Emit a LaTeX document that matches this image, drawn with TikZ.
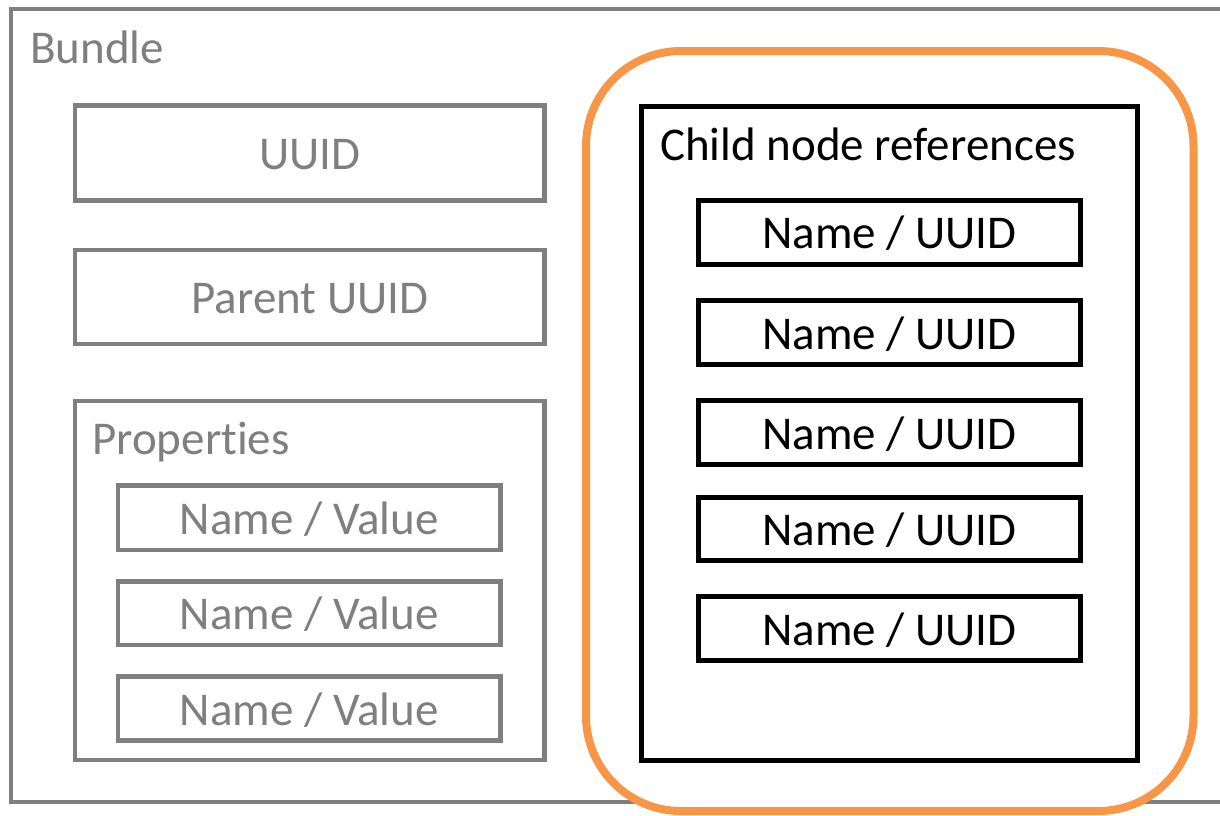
\documentclass[tikz,border=0pt]{standalone}
\usepackage{fontspec}
\setmainfont{Carlito}[Ligatures={NoCommon}]
\definecolor{boxgray}{RGB}{127,127,127}
\definecolor{accentorange}{RGB}{247,150,70}
\begin{document}
\begin{tikzpicture}[x=1pt, y=-1pt,
  font=\fontsize{47}{56}\selectfont,
  graybox/.style={draw=boxgray, line width=4.6pt, text=boxgray, inner sep=0pt,
    text height=33pt, text depth=0pt},
  blackbox/.style={draw=black, line width=5pt, text=black, inner sep=0pt,
    text height=33pt, text depth=0pt},
  groupbox/.style={draw=#1, line width=4.6pt, inner sep=0pt, fill=white},
  caption/.style={anchor=base west, inner sep=0pt},
  refgroup/.style={draw=accentorange, line width=8pt, fill=white,
    rounded corners=95pt, inner sep=0pt}
]
\useasboundingbox (0,0) rectangle (1220,815);
\clip (0,0) rectangle (1220,815);

% outer bundle frame (runs past the right edge)
\draw[boxgray, line width=4.6pt] (11,9) rectangle (1240,802);
\node[caption, text=boxgray] (bundlelbl) at (30,63) {Bundle};

% identifiers
\node[graybox, minimum width=469.5pt, minimum height=95pt] (uuid) at (309.75,153) {UUID};
\node[graybox, minimum width=469.5pt, minimum height=94pt] (parent) at (309.75,297) {Parent UUID};

% properties
\node[groupbox=boxgray, minimum width=469.5pt, minimum height=359pt] (props) at (309.75,580.5) {};
\node[caption, text=boxgray] (propslbl) at (92,454) {Properties};
\node[graybox, minimum width=382.5pt, minimum height=64.5pt] (nv1) at (309.25,517.75) {Name / Value};
\node[graybox, minimum width=382.5pt, minimum height=63.5pt] (nv2) at (309.25,613.25) {Name / Value};
\node[graybox, minimum width=382.5pt, minimum height=64pt] (nv3) at (309.25,708.5) {Name / Value};

% highlighted child references
\node[refgroup, minimum width=607.5pt, minimum height=760pt] (highlight) at (889.75,431) {};
\node[groupbox=black, line width=5pt, minimum width=495.5pt, minimum height=653.5pt] (children) at (889.25,433.25) {};
\node[caption] (childlbl) at (660,160) {Child node references};
\node[blackbox, minimum width=381.5pt, minimum height=64.5pt] (c1) at (889.25,232.25) {Name / UUID};
\node[blackbox, minimum width=381.5pt, minimum height=64pt] (c2) at (889.25,332.5) {Name / UUID};
\node[blackbox, minimum width=381.5pt, minimum height=64pt] (c3) at (889.25,432.5) {Name / UUID};
\node[blackbox, minimum width=381.5pt, minimum height=63pt] (c4) at (889.25,529) {Name / UUID};
\node[blackbox, minimum width=381.5pt, minimum height=64pt] (c5) at (889.25,628.5) {Name / UUID};
\end{tikzpicture}
\end{document}
